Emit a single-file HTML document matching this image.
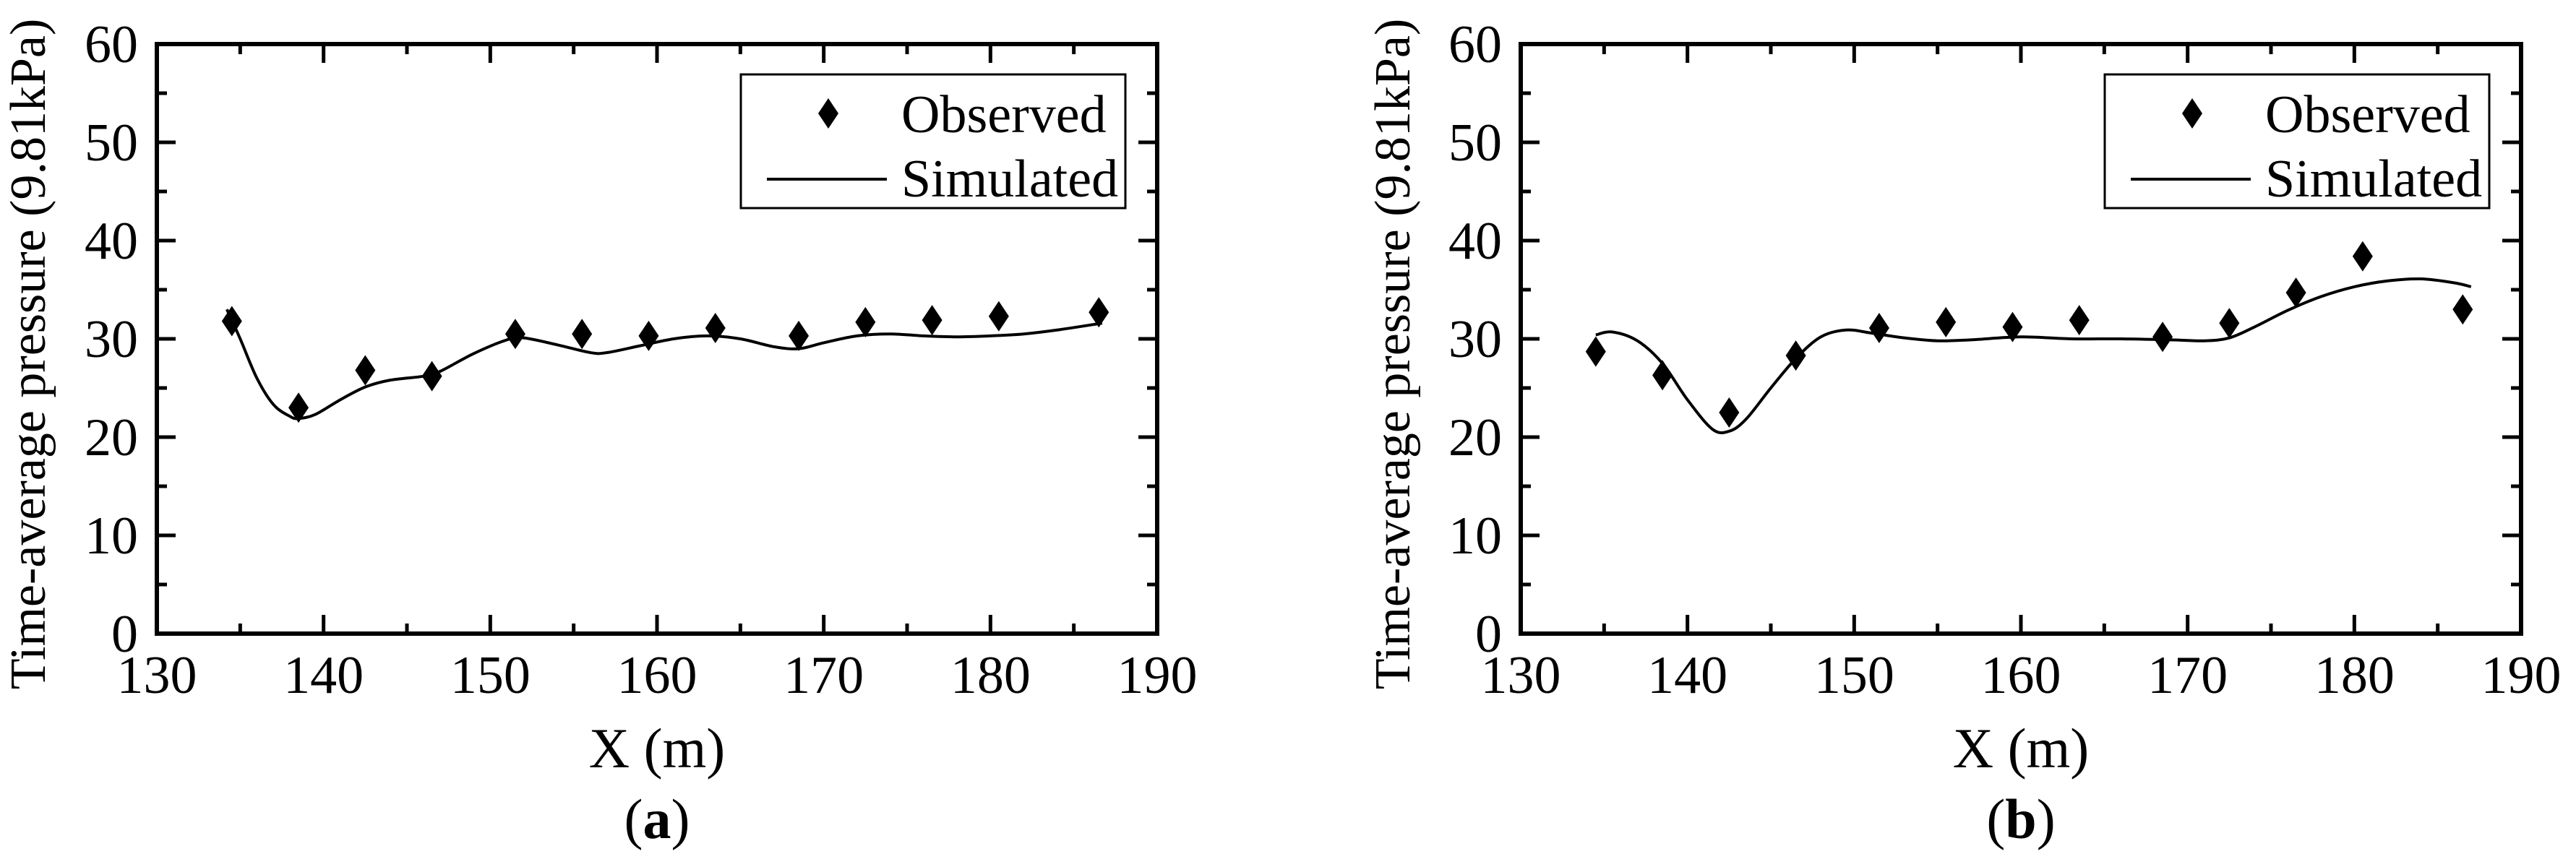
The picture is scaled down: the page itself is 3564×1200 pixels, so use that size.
<!DOCTYPE html>
<html><head><meta charset="utf-8">
<style>
html,body{margin:0;padding:0;background:#fff;}
svg{display:block;}
text{font-family:"Liberation Serif","Times New Roman",serif;fill:#000;}
</style></head>
<body>
<svg id="fig" width="3564" height="1200" viewBox="0 0 3564 1200" xmlns="http://www.w3.org/2000/svg"></svg>
<script>
const xTicks = [130,140,150,160,170,180,190];
const yTicks = [0,10,20,30,40,50,60];
const obsXA = [134.5,138.5,142.5,146.5,151.5,155.5,159.5,163.5,168.5,172.5,176.5,180.5,186.5];
const obsYA = [31.8,23,26.8,26.2,30.5,30.5,30.3,31.1,30.3,31.7,31.9,32.3,32.7];
const simXA = [134.2,135,136,137,138,138.5,139.5,141,142.5,144,146,147,149,151,152,154,156,157,159,161,163,165,167,168.5,170,172,174,176,178,180,182,184,186.7];
const simYA = [33,30,26,23.3,22.1,21.9,22.3,23.8,25.1,25.8,26.2,26.7,28.5,29.9,30.1,29.4,28.6,28.6,29.3,30,30.3,30,29.2,29,29.6,30.3,30.5,30.3,30.2,30.3,30.5,30.9,31.6];
const obsXB = [134.5,138.5,142.5,146.5,151.5,155.5,159.5,163.5,168.5,172.5,176.5,180.5,186.5];
const obsYB = [28.7,26.3,22.5,28.3,31.1,31.7,31.2,31.9,30.2,31.6,34.7,38.4,33];
const simXB = [134.5,135.5,137,138.5,140,141.5,142.5,143.5,145,146.5,148,149.5,151,153,155,157,160,163,166,169,171,172.5,174,176,178,180,182,184,186,187];
const simYB = [30.4,30.7,29.8,27.5,23.8,20.8,20.6,21.8,25,28,30.2,30.9,30.6,30.1,29.8,29.9,30.2,30,30,29.9,29.8,30.1,31.2,32.9,34.3,35.3,35.9,36.1,35.7,35.3];

const NS = "http://www.w3.org/2000/svg";
const svg = document.getElementById('fig');
function mk(tag, attrs, parent){
  const e = document.createElementNS(NS, tag);
  for (const k in attrs) e.setAttribute(k, attrs[k]);
  (parent||svg).appendChild(e);
  return e;
}
function smoothPath(pts){
  let d = "M" + pts[0][0] + "," + pts[0][1];
  for (let i=0;i<pts.length-1;i++){
    const p0 = pts[i-1]||pts[i], p1=pts[i], p2=pts[i+1], p3=pts[i+2]||p2;
    const c1x = p1[0]+(p2[0]-p0[0])/6, c1y = p1[1]+(p2[1]-p0[1])/6;
    const c2x = p2[0]-(p3[0]-p1[0])/6, c2y = p2[1]-(p3[1]-p1[1])/6;
    d += " C"+c1x+","+c1y+" "+c2x+","+c2y+" "+p2[0]+","+p2[1];
  }
  return d;
}
function panel(id, L, obsX, obsY, simX, simY, letter, ylabX){
  const R = L + 1384, T = 61, B = 877;
  const g = mk('g', {});
  
  
  const sx = v => L + (v-130)/60*(R-L);
  const sy = v => B - v/60*(B-T);
  for (let v=130; v<=190; v+=5){
    const major = v%10===0, len = major?26:14, x = sx(v);
    const t1 = mk('line', {x1:x,y1:B,x2:x,y2:B-len,stroke:'#000','stroke-width':5}, g);
     
    const t2 = mk('line', {x1:x,y1:T,x2:x,y2:T+len,stroke:'#000','stroke-width':5}, g);
     
  }
  for (let v=0; v<=60; v+=5){
    const major = v%10===0, len = major?26:14, y = sy(v);
    const t1 = mk('line', {x1:L,y1:y,x2:L+len,y2:y,stroke:'#000','stroke-width':5}, g);
     
    const t2 = mk('line', {x1:R,y1:y,x2:R-len,y2:y,stroke:'#000','stroke-width':5}, g);
     
  }
  const frame = mk('rect', {x:L,y:T,width:R-L,height:B-T,fill:'none',stroke:'#000','stroke-width':6}, g);
   
  xTicks.forEach(v => {
    const t = mk('text', {x:sx(v), y:B+82, 'font-size':74, 'text-anchor':'middle'}, g);
    t.textContent = v;
     
  });
  yTicks.forEach(v => {
    const t = mk('text', {x:L-26, y:sy(v)+25, 'font-size':74, 'text-anchor':'end'}, g);
    t.textContent = v;
     
  });
  const xt = mk('text', {x:(L+R)/2, y:1062, 'font-size':78, 'text-anchor':'middle'}, g);
  xt.textContent = 'X (m)';
   
  const yt = mk('text', {x:0, y:0, 'font-size':70, 'text-anchor':'middle', transform:'translate('+ylabX+',490) rotate(-90)'}, g);
  yt.textContent = 'Time-average pressure (9.81kPa)';
   
  const cap = mk('text', {x:(L+R)/2, y:1160, 'font-size':78, 'text-anchor':'middle'}, g);
  cap.innerHTML = '(<tspan font-weight="bold">' + letter + '</tspan>)';
   
  const pts = simX.map((x,i)=>[sx(x), sy(simY[i])]);
  const p = mk('path', {d:smoothPath(pts), fill:'none', stroke:'#000', 'stroke-width':4}, g);
   
  obsX.forEach((x,i)=>{
    const cx = sx(x), cy = sy(obsY[i]);
    const m = mk('polygon', {points:(cx)+','+(cy-21)+' '+(cx+14)+','+cy+' '+cx+','+(cy+21)+' '+(cx-14)+','+cy, fill:'#000'}, g);
     
  });
  const lg = mk('g', {}, g);
   
  const lx = L + 808, lw = 532, ly = 103, lh = 185;
  const lb = mk('rect', {x:lx, y:ly, width:lw, height:lh, fill:'#fff', stroke:'#000', 'stroke-width':3}, lg);
   
  const dx = lx + 121, dy = 157;
  const ld = mk('polygon', {points:dx+','+(dy-21)+' '+(dx+14)+','+dy+' '+dx+','+(dy+21)+' '+(dx-14)+','+dy, fill:'#000'}, lg);
   
  const lt1 = mk('text', {x:lx+222, y:183, 'font-size':74}, lg);
  lt1.textContent = 'Observed';
   
  const ll = mk('line', {x1:lx+36, y1:248, x2:lx+202, y2:248, stroke:'#000', 'stroke-width':4}, lg);
   
  const lt2 = mk('text', {x:lx+222, y:272, 'font-size':74}, lg);
  lt2.textContent = 'Simulated';
   
}
panel('a', 217, obsXA, obsYA, simXA, simYA, 'a', 62);
panel('b', 2104, obsXB, obsYB, simXB, simYB, 'b', 1950);
</script>
</body></html>
